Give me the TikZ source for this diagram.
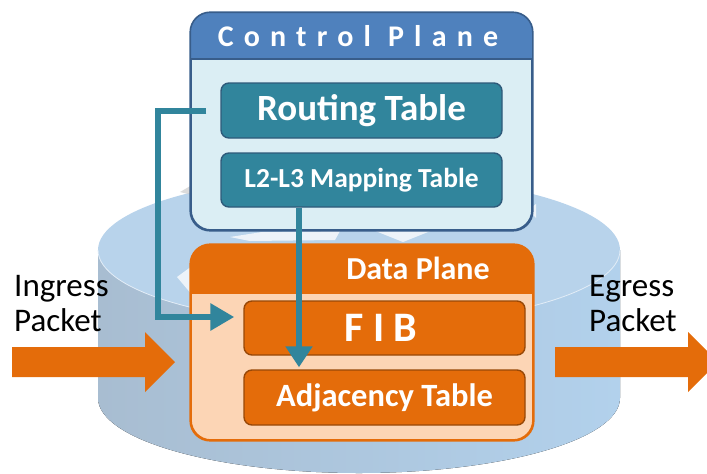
\documentclass[tikz,border=0pt]{standalone}
\usepackage{fontspec}
\setmainfont{Carlito}
\newfontfamily\spacedfont[LetterSpace=34]{Carlito}
\usetikzlibrary{arrows.meta,calc}

\definecolor{cylL}{HTML}{A8BDD1}
\definecolor{cylR}{HTML}{B2D1EC}
\definecolor{cylTop}{HTML}{B8D3EB}
\definecolor{cpHead}{HTML}{4F81BD}
\definecolor{cpBody}{HTML}{DBEEF4}
\definecolor{cpEdge}{HTML}{385D8A}
\definecolor{teal}{HTML}{31859C}
\definecolor{tealEdge}{HTML}{2E5A7A}
\definecolor{orng}{HTML}{E46C0A}
\definecolor{orngEdge}{HTML}{984807}
\definecolor{peach}{HTML}{FCD5B5}

\tikzset{
  planebox/.style={draw, line width=1.6pt, rounded corners=20pt, inner sep=0pt},
  tablebox/.style={draw, line width=1.4pt, rounded corners=8pt, inner sep=0pt,
                   minimum width=281pt},
  tealbox/.style={tablebox, fill=teal, draw=tealEdge},
  orangebox/.style={tablebox, fill=orng, draw=orngEdge},
  boxtext/.style={text=white, font=\bfseries, inner sep=0pt},
  sidetext/.style={align=left, anchor=north west, inner sep=0pt,
                   font=\fontsize{33}{35}\selectfont},
  conn/.style={draw=teal, line width=6pt},
  glint/.style={fill=white, opacity=0.75},
}

\begin{document}
\begin{tikzpicture}[x=1pt, y=-1pt]
\useasboundingbox (0,0) rectangle (707,474);

% router cylinder
\fill[left color=cylL, right color=cylR]
  (98,250) -- (98,398) arc[start angle=180, end angle=0, x radius=261, y radius=75]
  -- (620,250) -- cycle;
\fill[cylTop] (359,250) ellipse[x radius=261, y radius=75];
\draw[white!60!cylTop, line width=0.8pt]
  (98,250) arc[start angle=180, end angle=0, x radius=261, y radius=75];

% light arrow marks on the router top
\fill[glint] (230,237) -- (262,232) -- (340,231) -- (335,240) -- (250,241) -- cycle;
\fill[glint] (373,230) -- (433,230) -- (403,242) -- cycle;
\fill[glint] (177,277) -- (192,266) -- (193,296) -- cycle;
\fill[glint] (528,210) -- (536,204) -- (536,218) -- cycle;
\fill[gray!40, opacity=0.7] (180,192) -- (192,185) -- (192,195) -- cycle;

% ingress / egress arrows
\fill[orng] (12,347) -- (145,347) -- (145,332) -- (175,362) -- (145,392)
  -- (145,377) -- (12,377) -- cycle;
\fill[orng] (555,347) -- (688,347) -- (688,332) -- (718,362) -- (688,392)
  -- (688,377) -- (555,377) -- cycle;

\node[sidetext] (ing) at (14,275) {Ingress\\Packet};
\node[sidetext] (egr) at (589,275) {Egress\\Packet};

% control plane
\node[planebox, draw=cpEdge, fill=cpBody, minimum width=341pt, minimum height=217pt]
  (cp) at (361.5,121.5) {};
\begin{scope}
  \clip[rounded corners=20pt] (cp.north west) rectangle (cp.south east);
  \fill[cpHead] (cp.north west) rectangle ($(cp.north east)+(0,47)$);
\end{scope}
\draw[cpEdge, line width=1.6pt] ($(cp.north west)+(0,47)$) -- ($(cp.north east)+(0,47)$);
\draw[cpEdge, line width=1.6pt, rounded corners=20pt] (cp.north west) rectangle (cp.south east);
\node[boxtext, font=\spacedfont\bfseries\fontsize{30}{32}\selectfont] (cpt) at (358,36) {Control Plane};

\node[tealbox, minimum height=55pt] (rt) at (361.5,110.5) {};
\node[boxtext, font=\bfseries\fontsize{37}{40}\selectfont] at (rt) {Routing Table};
\node[tealbox, minimum height=54pt] (l23) at (361.5,180) {};
\node[boxtext, font=\bfseries\fontsize{27.5}{30}\selectfont] at (l23) {L2-L3 Mapping Table};

% data plane
\node[planebox, draw=orng, fill=peach, minimum width=342pt, minimum height=195pt]
  (dp) at (362,342.5) {};
\begin{scope}
  \clip[rounded corners=20pt] (dp.north west) rectangle (dp.south east);
  \fill[orng] (dp.north west) rectangle ($(dp.north east)+(0,50)$);
\end{scope}
\draw[orng, line width=1.6pt, rounded corners=20pt] (dp.north west) rectangle (dp.south east);
\node[boxtext, font=\bfseries\fontsize{32}{35}\selectfont] (dpt) at (418,268) {Data Plane};

\node[orangebox, minimum height=54pt] (fib) at (384.5,328) {};
\node[boxtext, font=\bfseries\fontsize{42}{44}\selectfont] at (381,328) {F I B};
\node[orangebox, minimum height=55pt] (adj) at (384.5,397.5) {};
\node[boxtext, font=\bfseries\fontsize{32.5}{35}\selectfont] at (adj) {Adjacency Table};

% lookup connectors
\coordinate (rtout) at ([xshift=-14pt]rt.west);
\coordinate (fibin) at ([xshift=-9pt, yshift=11pt]fib.west);
\draw[conn, -{Triangle[length=24pt, width=26pt]}]
  (rtout) -- ++(-48,0) |- (fibin);
\coordinate (l23out) at ([xshift=-62.5pt]l23.south);
\coordinate (adjin) at ([xshift=-85.5pt, yshift=2pt]adj.north);
\draw[conn, -{Triangle[length=21pt, width=26pt]}] (l23out) -- (adjin);
\end{tikzpicture}
\end{document}
